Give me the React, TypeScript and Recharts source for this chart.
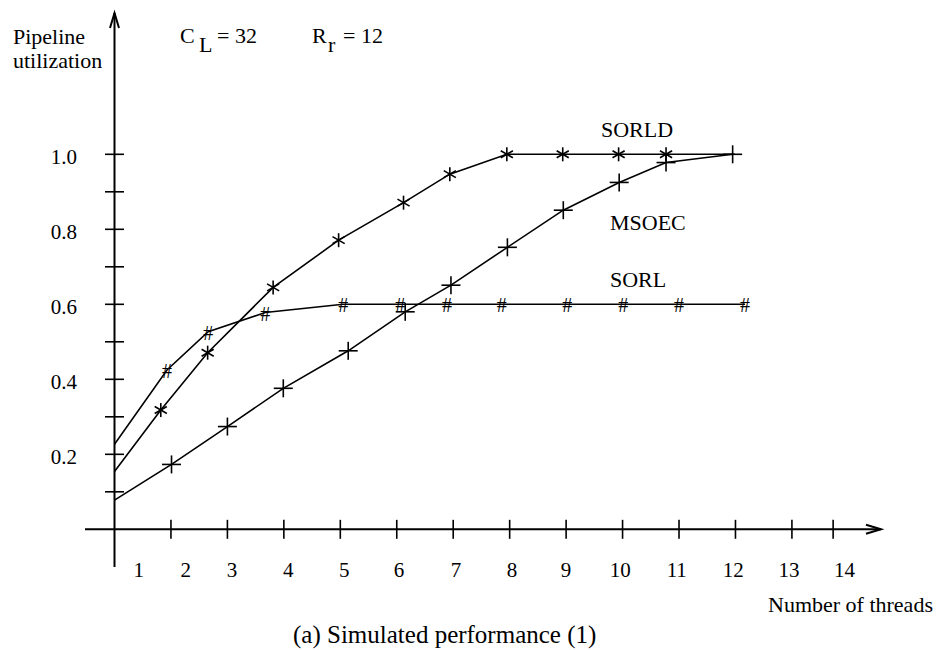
import { LineChart, Line, XAxis, YAxis, ReferenceLine } from "recharts"

const FONT = '"Liberation Serif", "Times New Roman", serif'

// threads (x) and pipeline utilization (y)
const sorldX = [1, 1.82, 2.65, 3.81, 4.97, 6.12, 6.94, 7.95, 8.94, 9.93, 10.77, 11.99]
const sorldY = [0.154, 0.318, 0.471, 0.645, 0.771, 0.871, 0.947, 1.0, 1.0, 1.0, 1.0, 1.0]
const sorldMarked = [false, true, true, true, true, true, true, true, true, true, true, false]

const sorlX = [1, 1.93, 2.66, 3.67, 5.05, 6.06, 6.89, 7.86, 9.02, 10.01, 11.0, 12.17]
const sorlY = [0.227, 0.425, 0.527, 0.578, 0.6, 0.6, 0.6, 0.6, 0.6, 0.6, 0.6, 0.6]

const msoecX = [1, 2.01, 3.0, 3.99, 5.14, 6.15, 6.96, 7.96, 8.95, 9.94, 10.77, 11.95]
const msoecY = [0.078, 0.173, 0.274, 0.376, 0.476, 0.58, 0.651, 0.752, 0.851, 0.925, 0.978, 1.0]

// axis ticks and labels
const xLabels = ["1", "2", "3", "4", "5", "6", "7", "8", "9", "10", "11", "12", "13", "14"]
const xLabelPos = [1.43, 2.26, 3.08, 4.08, 5.07, 6.04, 7.05, 8.04, 9.0, 9.96, 10.96, 11.96, 12.95, 13.93]
const xTickPos = [2, 3, 4, 5, 6, 7, 8, 9, 10, 11, 12, 13, 13.73]
const yLabels = [0.2, 0.4, 0.6, 0.8, 1.0]
const yTickPos = [0.1, 0.2, 0.3, 0.4, 0.5, 0.6, 0.7, 0.8, 0.9, 1.0]

const rows = (xs: number[], ys: number[], marked?: boolean[]) =>
  xs.map((k, i) => ({ k, v: ys[i], mark: marked ? marked[i] : i > 0 }))

const sorldRows = rows(sorldX, sorldY, sorldMarked)
const sorlRows = rows(sorlX, sorlY)
const msoecRows = rows(msoecX, msoecY)

const StarDot = (p: any) => {
  const { cx, cy, index, payload } = p
  if (!payload.mark) return <g key={`s${index}`} />
  const r = 7
  const dx = r * Math.cos(Math.PI / 6)
  const dy = r * 0.5
  return (
    <g key={`s${index}`} stroke="#000" strokeWidth={1.6}>
      <line x1={cx} y1={cy - r} x2={cx} y2={cy + r} />
      <line x1={cx - dx} y1={cy - dy} x2={cx + dx} y2={cy + dy} />
      <line x1={cx - dx} y1={cy + dy} x2={cx + dx} y2={cy - dy} />
    </g>
  )
}

const HashDot = (p: any) => {
  const { cx, cy, index, payload } = p
  if (!payload.mark) return <g key={`h${index}`} />
  return (
    <text key={`h${index}`} x={cx} y={cy + 8} textAnchor="middle" fontFamily={FONT} fontSize={20} fill="#000">
      #
    </text>
  )
}

const PlusDot = (p: any) => {
  const { cx, cy, index, payload } = p
  if (!payload.mark) return <g key={`p${index}`} />
  return (
    <g key={`p${index}`} stroke="#000" strokeWidth={1.6}>
      <line x1={cx - 9.5} y1={cy} x2={cx + 9.5} y2={cy} />
      <line x1={cx} y1={cy - 9} x2={cx} y2={cy + 9} />
    </g>
  )
}

const XTick = (p: any) => (
  <text x={p.x} y={p.y} dy={10} textAnchor="middle" fontFamily={FONT} fontSize={21} fill="#000">
    {xLabels[xLabelPos.indexOf(p.payload.value)]}
  </text>
)

const YTick = (p: any) => (
  <text x={p.x} y={p.y} dy={10} textAnchor="end" fontFamily={FONT} fontSize={21} fill="#000">
    {Number(p.payload.value).toFixed(1)}
  </text>
)

const YAxisArrow = (p: any) => {
  const top = Math.min(p.y1, p.y2)
  const bot = Math.max(p.y1, p.y2)
  const x = p.x1
  return (
    <g stroke="#000" strokeWidth={2} fill="none">
      <line x1={x} y1={bot} x2={x} y2={top} />
      <polyline points={`${x - 4.5},${top + 15} ${x},${top} ${x + 4.5},${top + 15}`} />
    </g>
  )
}

const XAxisArrow = (p: any) => {
  const left = Math.min(p.x1, p.x2)
  const right = Math.max(p.x1, p.x2)
  const y = p.y1
  return (
    <g stroke="#000" strokeWidth={2} fill="none">
      <line x1={left} y1={y} x2={right} y2={y} />
      <polyline points={`${right - 15},${y - 4.5} ${right},${y} ${right - 15},${y + 4.5}`} />
    </g>
  )
}

const txt = { fontFamily: FONT, fontSize: 22, fill: "#000" }

export default function App() {
  return (
    <div style={{ position: "absolute", left: 0, top: 0, width: 940, height: 650, background: "#fff" }}>
      <LineChart width={940} height={650} margin={{ top: 13, right: 59, left: 0, bottom: 0 }}>
        <XAxis
          type="number"
          dataKey="k"
          domain={[0.4774, 14.578]}
          ticks={xLabelPos}
          interval={0}
          axisLine={false}
          tickLine={false}
          tickSize={0}
          tickMargin={0}
          height={83}
          tick={XTick}
          allowDataOverflow
        />
        <YAxis
          type="number"
          domain={[-0.1005, 1.3768]}
          ticks={yLabels}
          interval={0}
          axisLine={false}
          tickLine={false}
          tickSize={0}
          tickMargin={8}
          width={85}
          tick={YTick}
          allowDataOverflow
        />
        <ReferenceLine x={1} shape={YAxisArrow} />
        <ReferenceLine y={0} shape={XAxisArrow} />
        {xTickPos.map((t) => (
          <ReferenceLine
            key={`xt${t}`}
            segment={[{ x: t, y: -0.0253 }, { x: t, y: 0.0253 }]}
            stroke="#000"
            strokeWidth={1.6}
          />
        ))}
        {yTickPos.map((t) => (
          <ReferenceLine
            key={`yt${t}`}
            segment={[{ x: 1 - 0.168, y: t }, { x: 1 + 0.168, y: t }]}
            stroke="#000"
            strokeWidth={1.6}
          />
        ))}
        <Line data={sorldRows} dataKey="v" type="linear" stroke="#000" strokeWidth={1.6} dot={StarDot} activeDot={false} isAnimationActive={false} />
        <Line data={sorlRows} dataKey="v" type="linear" stroke="#000" strokeWidth={1.6} dot={HashDot} activeDot={false} isAnimationActive={false} />
        <Line data={msoecRows} dataKey="v" type="linear" stroke="#000" strokeWidth={1.6} dot={PlusDot} activeDot={false} isAnimationActive={false} />
      </LineChart>
      <svg width={940} height={650} style={{ position: "absolute", left: 0, top: 0, pointerEvents: "none" }}>
        <text x={13} y={44} {...txt}>Pipeline</text>
        <text x={13} y={68} {...txt}>utilization</text>
        <text x={180} y={43} {...txt}>C</text>
        <text x={199} y={52} {...txt}>L</text>
        <text x={217} y={43} {...txt}>= 32</text>
        <text x={312} y={43} {...txt}>R</text>
        <text x={328} y={52} {...txt}>r</text>
        <text x={343} y={43} {...txt}>= 12</text>
        <text x={601} y={136.5} {...txt}>SORLD</text>
        <text x={610} y={230} {...txt}>MSOEC</text>
        <text x={610} y={286.5} {...txt}>SORL</text>
        <text x={768} y={612} {...txt}>Number of threads</text>
        <text x={293} y={643} {...txt} fontSize={25}>(a) Simulated performance (1)</text>
      </svg>
    </div>
  )
}
